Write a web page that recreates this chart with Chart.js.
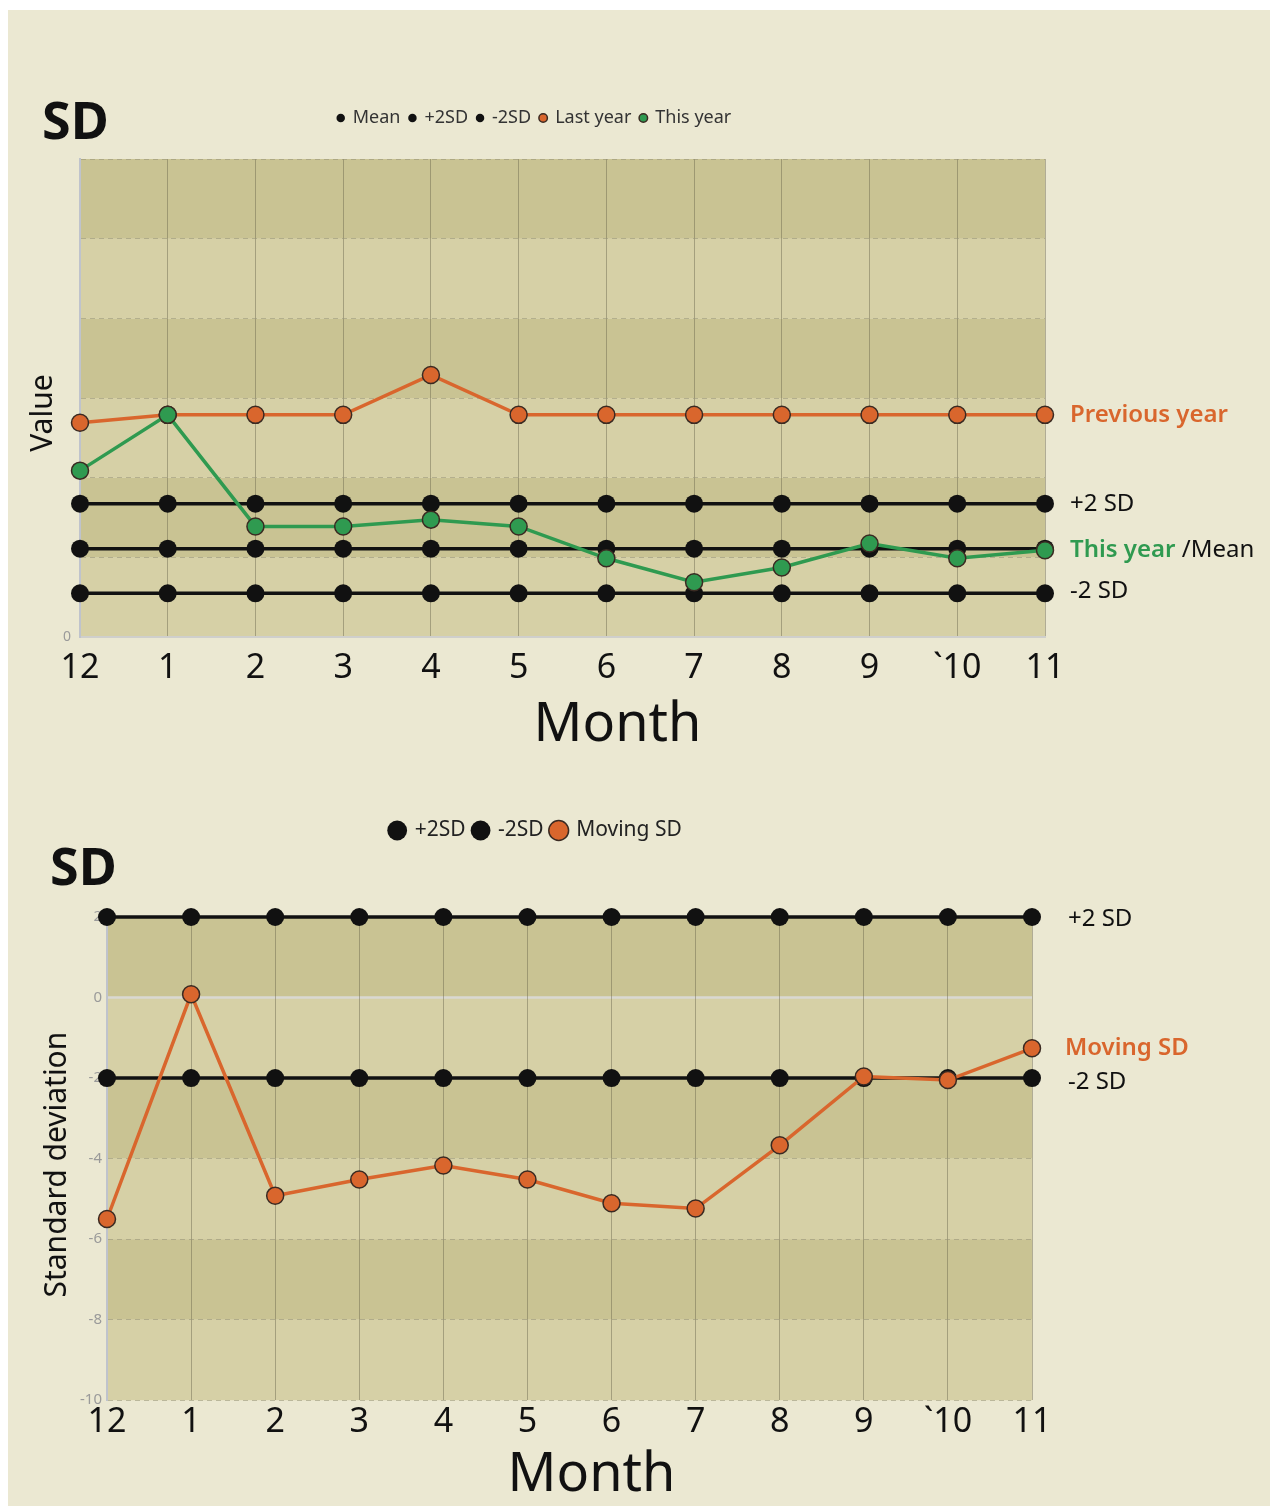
<!DOCTYPE html>
<html lang="en">
<head>
  <meta charset="UTF-8"><meta name="viewport" content="width=device-width">
  <title>SD charts</title>
  <script src="https://cdn.jsdelivr.net/npm/chart.js"></script>
  <style>
    html,body{margin:0;padding:0;background:#fff;}
    #page{position:absolute;left:8px;top:10px;width:1262px;height:1496px;background:#ebe8d2;}
    .box{position:absolute;left:0;width:1276px;}
    #top{top:0;height:780px;}
    #bottom{top:788px;height:718px;}
  </style>
</head>
<body>
  <div id="page"></div>
  <div class="box" id="top"><canvas id="valueChart"></canvas></div>
  <div class="box" id="bottom"><canvas id="sdChart"></canvas></div>

  <script>
    // months on the x axis (both charts)
    const months = ['12','1','2','3','4','5','6','7','8','9','`10','11'];

    // top chart: value
    const meanLine  = [1.11,1.11,1.11,1.11,1.11,1.11,1.11,1.11,1.11,1.11,1.11,1.11];
    const plusLine  = [1.675,1.675,1.675,1.675,1.675,1.675,1.675,1.675,1.675,1.675,1.675,1.675];
    const minusLine = [0.55,0.55,0.55,0.55,0.55,0.55,0.55,0.55,0.55,0.55,0.55,0.55];
    const lastYear  = [2.69,2.79,2.79,2.79,3.29,2.79,2.79,2.79,2.79,2.79,2.79,2.79];
    const thisYear  = [2.09,2.79,1.39,1.39,1.475,1.39,0.99,0.69,0.875,1.175,0.99,1.09];
    const valueRange = [0, 6];

    // bottom chart: moving SD
    const sdPlus   = [2,2,2,2,2,2,2,2,2,2,2,2];
    const sdMinus  = [-2,-2,-2,-2,-2,-2,-2,-2,-2,-2,-2,-2];
    const movingSD = [-5.5,0.08,-4.92,-4.52,-4.17,-4.52,-5.11,-5.24,-3.67,-1.96,-2.05,-1.26];
    const sdRange = [-10, 2];

    const FONT = "'Noto Sans','DejaVu Sans',sans-serif";
    const ORANGE = '#d9662d', GREEN = '#2f9a50', DOT_EDGE = '#3a2a22';
    Chart.defaults.font.family = FONT;

    // alternating horizontal bands behind the grid
    const bands = {
      id:'bands',
      beforeDraw(chart, args, opts){
        const {ctx, chartArea:a, scales:{y}} = chart;
        ctx.save();
        const t = y.ticks;
        for (let i=0;i<t.length-1;i++){
          const y0=y.getPixelForValue(t[i].value), y1=y.getPixelForValue(t[i+1].value);
          ctx.fillStyle = i%2 ? opts.dark : opts.light;
          ctx.fillRect(a.left, y1, a.right-a.left, y0-y1);
        }
        if (opts.zeroLine){
          const z=y.getPixelForValue(0);
          ctx.strokeStyle='#d9d8d2'; ctx.lineWidth=2.5;
          ctx.beginPath(); ctx.moveTo(a.left,z); ctx.lineTo(a.right,z); ctx.stroke();
        }
        ctx.restore();
      }
    };

    // corner title, axis titles and the labels at the right end of the lines
    const notes = {
      id:'notes',
      afterDraw(chart, args, o){
        const {ctx, chartArea:a, scales:{y}} = chart;
        ctx.save();
        ctx.textBaseline='middle';
        ctx.fillStyle='#111';
        ctx.font='bold 52px '+FONT;
        ctx.fillText(o.title, o.titleX, o.titleY);
        ctx.font='54px '+FONT; ctx.textAlign='center';
        ctx.fillText('Month', (a.left+a.right)/2+o.monthDx, a.bottom+o.monthDy);
        // rotated y title
        ctx.save();
        ctx.translate(o.yTitleX, (a.top+a.bottom)/2+o.yTitleDy);
        ctx.rotate(-Math.PI/2);
        ctx.font=o.yTitleSize+'px '+FONT;
        ctx.fillText(o.yTitle,0,0);
        ctx.restore();
        ctx.textAlign='left';
        o.labels.forEach(l=>{
          let x=a.right+l.dx;
          const py=y.getPixelForValue(l.value)+(l.dy||0);
          l.parts.forEach(p=>{
            ctx.font=(p.bold?'600 ':'')+'24px '+FONT; ctx.fillStyle=p.color;
            ctx.fillText(p.text,x,py); x+=ctx.measureText(p.text).width;
          });
        });
        ctx.restore();
      }
    };

    // extra room between legend and plot
    const legendGap = {
      id:'legendGap',
      beforeInit(chart){
        const fit=chart.legend.fit;
        chart.legend.fit=function(){ fit.bind(chart.legend)(); this.height+=chart.options.plugins.legendGap.gap; };
      }
    };

    function blackSet(label, data, order){
      return {label, data, order, borderColor:'#111', backgroundColor:'#111', borderWidth:3.5,
        pointRadius:9, pointHoverRadius:9, pointBorderWidth:0, pointBackgroundColor:'#111', clip:false};
    }
    function colorSet(label, data, color, order){
      return {label, data, order, borderColor:color, backgroundColor:color, borderWidth:3.5,
        pointRadius:8.5, pointHoverRadius:8.5, pointBackgroundColor:color, pointBorderColor:DOT_EDGE,
        pointBorderWidth:1.5, clip:false};
    }
    const byIndex=(a,b)=>a.datasetIndex-b.datasetIndex;

    new Chart(document.getElementById('valueChart'),{
      type:'line',
      data:{labels:months,datasets:[
        blackSet('Mean',meanLine,3),
        blackSet('+2SD',plusLine,4),
        blackSet('-2SD',minusLine,5),
        colorSet('Last year',lastYear,ORANGE,2),
        colorSet('This year',thisYear,GREEN,1)
      ]},
      options:{
        responsive:true, maintainAspectRatio:false, animation:false,
        layout:{padding:{left:24,right:231,top:100,bottom:80}},
        plugins:{
          legend:{labels:{usePointStyle:true,boxWidth:6,boxHeight:6,padding:9,color:'#333',
            font:{size:18},sort:byIndex}},
          tooltip:{enabled:false},
          legendGap:{gap:22},
          bands:{light:'#d6d0a6',dark:'#c9c393'},
          notes:{title:'SD',titleX:42,titleY:124,monthDx:55,monthDy:88,
            yTitle:'Value',yTitleX:43,yTitleDy:15,yTitleSize:30,labels:[
            {value:lastYear[lastYear.length-1],dx:25,parts:[{text:'Previous year',color:ORANGE,bold:true}]},
            {value:plusLine[0],dx:25,parts:[{text:'+2 SD',color:'#111'}]},
            {value:thisYear[thisYear.length-1],dx:25,parts:[{text:'This year',color:GREEN,bold:true},{text:' /Mean',color:'#111'}]},
            {value:minusLine[0],dx:25,dy:-2,parts:[{text:'-2 SD',color:'#111'}]}
          ]}
        },
        scales:{
          x:{grid:{color:'rgba(105,100,75,0.45)',drawTicks:false},
             border:{display:true,color:'#cfcfcc',width:2},
             ticks:{color:'#111',font:{size:34},padding:11,maxRotation:0,autoSkip:false}},
          y:{min:valueRange[0],max:valueRange[1],
             ticks:{stepSize:1,callback:v=>v===0?'0':'',color:'#9a9a9a',font:{size:14},padding:9},
             grid:{color:'rgba(150,145,118,0.55)',drawTicks:false},
             border:{color:'#bfc3cc',width:2,dash:[5,4]},
             afterFit(s){ s.width=56; }}
        }
      },
      plugins:[bands,notes,legendGap]
    });

    new Chart(document.getElementById('sdChart'),{
      type:'line',
      data:{labels:months,datasets:[
        blackSet('+2SD',sdPlus,3),
        blackSet('-2SD',sdMinus,4),
        colorSet('Moving SD',movingSD,ORANGE,1)
      ]},
      options:{
        responsive:true, maintainAspectRatio:false, animation:false,
        layout:{padding:{left:40,right:244,top:24,bottom:61}},
        plugins:{
          legend:{labels:{usePointStyle:true,boxWidth:14,boxHeight:14,padding:8,color:'#222',
            font:{size:21},sort:byIndex}},
          tooltip:{enabled:false},
          legendGap:{gap:66},
          bands:{light:'#d6d0a6',dark:'#c9c393',zeroLine:true},
          notes:{title:'SD',titleX:50,titleY:82,monthDx:22,monthDy:75,
            yTitle:'Standard deviation',yTitleX:57,yTitleDy:6,yTitleSize:30,labels:[
            {value:sdPlus[0],dx:36,dy:2,parts:[{text:'+2 SD',color:'#111'}]},
            {value:movingSD[movingSD.length-1],dx:33,parts:[{text:'Moving SD',color:ORANGE,bold:true}]},
            {value:sdMinus[0],dx:36,dy:4,parts:[{text:'-2 SD',color:'#111'}]}
          ]}
        },
        scales:{
          x:{grid:{color:'rgba(105,100,75,0.45)',drawTicks:false},
             border:{display:false},
             ticks:{color:'#111',font:{size:34},padding:2,maxRotation:0,autoSkip:false}},
          y:{min:sdRange[0],max:sdRange[1],
             ticks:{stepSize:2,color:'#9a9a9a',font:{size:15},padding:5},
             grid:{color:c=>c.tick.value===0?'rgba(0,0,0,0)':'rgba(150,145,118,0.55)',drawTicks:false},
             border:{color:'#bfc3cc',width:2,dash:[5,4]},
             afterFit(s){ s.width=67; }}
        }
      },
      plugins:[bands,notes,legendGap]
    });
  </script>
</body>
</html>
